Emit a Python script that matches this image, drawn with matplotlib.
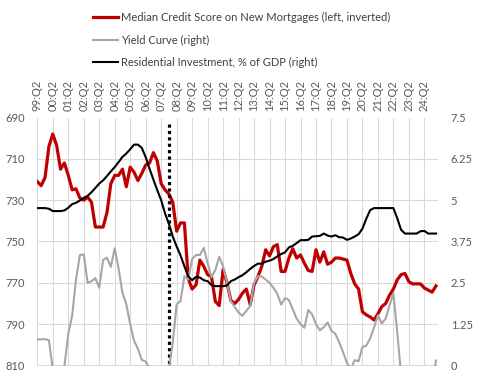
import numpy as np
import matplotlib.pyplot as plt
from matplotlib.ticker import FuncFormatter

plt.rcParams['font.family'] = ['Lato', 'DejaVu Sans']

# quarterly data, 1999:Q2 .. 2025:Q1
start_year, start_q = 1999, 2

# median credit score on new mortgages (left axis, inverted)
credit_score = [
    721, 723, 719, 704, 698, 703.5, 715, 712, 718, 725, 724.5, 729,
    730, 728.5, 731, 743, 743, 743, 736, 722, 718, 718, 715, 723.5,
    714, 716.5, 720.5, 717, 713, 712, 707, 711, 722, 725, 727, 731,
    745, 741, 741, 768, 773, 771, 759, 762, 766, 767, 779, 781,
    763.5, 770, 778.5, 780, 778, 775, 773, 780.5, 771, 767, 762, 754,
    757, 752.5, 751.5, 764.5, 764.5, 758, 753.5, 758, 756.5, 760.5, 764, 764.5,
    754, 760, 755, 761, 760, 758, 758, 758.5, 759, 765.5, 770.5, 773,
    784, 785.5, 786.5, 788, 785, 781.5, 780, 776, 773, 768.5, 766, 765.5,
    769.5, 770.5, 770.5, 770.5, 772.5, 773.5, 774.5, 771.5,
]

# yield curve (right axis)
yield_curve = [
    0.79, 0.79, 0.80, 0.76, -0.1, -0.4, -0.3, -0.02, 0.96, 1.5, 2.6, 3.34,
    3.36, 2.5, 2.55, 2.64, 2.35, 3.19, 3.26, 2.98, 3.55, 2.93, 2.2, 1.85,
    1.25, 0.75, 0.5, 0.17, 0.12, -0.1, -0.3, -0.5, -0.3, -0.2, -0.1, 0.7,
    1.85, 1.95, 2.7, 2.6, 3.22, 3.34, 3.34, 3.56, 3.1, 2.67, 2.89, 3.29,
    3.0, 2.5, 1.95, 1.77, 1.6, 1.5, 1.65, 1.8, 2.5, 2.7, 2.69, 2.6,
    2.5, 2.35, 2.17, 1.84, 2.04, 1.98, 1.7, 1.42, 1.25, 1.14, 1.68, 1.55,
    1.25, 1.06, 1.16, 1.3, 1.05, 0.96, 0.7, 0.4, 0.08, -0.1, 0.16, 0.13,
    0.56, 0.6, 0.82, 1.15, 1.52, 1.27, 1.42, 1.82, 2.17, 1.0, -0.3, -1.2,
    -1.5, -1.6, -1.5, -1.4, -1.3, -1.0, -0.6, 0.15,
]

# residential investment, % of GDP (right axis)
resid_inv = [
    4.76, 4.76, 4.76, 4.74, 4.67, 4.67, 4.67, 4.69, 4.77, 4.88, 4.92, 4.99,
    5.07, 5.13, 5.24, 5.37, 5.5, 5.6, 5.73, 5.87, 6.0, 6.15, 6.31, 6.41,
    6.54, 6.68, 6.68, 6.58, 6.3, 5.95, 5.62, 5.3, 5.0, 4.6, 4.28, 3.9,
    3.6, 3.33, 3.0, 2.7, 2.58, 2.68, 2.66, 2.58, 2.55, 2.43, 2.4, 2.4,
    2.4, 2.42, 2.55, 2.6, 2.67, 2.73, 2.82, 2.92, 3.01, 3.08, 3.08, 3.14,
    3.17, 3.22, 3.3, 3.37, 3.42, 3.57, 3.62, 3.7, 3.79, 3.79, 3.8, 3.9,
    3.91, 3.92, 3.99, 3.93, 3.9, 3.94, 3.88, 3.87, 3.8, 3.84, 3.9, 3.97,
    4.14, 4.44, 4.7, 4.76, 4.76, 4.76, 4.76, 4.76, 4.76, 4.45, 4.1, 3.99,
    3.99, 3.99, 3.99, 4.06, 4.07, 3.99, 3.99, 3.99,
]

marker_quarter = "07:Q4"   # dotted vertical line
marker_top = 693

n = len(credit_score)
labels = []
for i in range(n):
    k = start_q - 1 + i
    labels.append(f"{(start_year + k // 4) % 100:02d}:Q{k % 4 + 1}")
x = np.arange(n)

fig = plt.figure(figsize=(4.79, 3.73), dpi=100)
ax = fig.add_axes([37.3 / 479, 1 - 365.5 / 373, (438.3 - 37.3) / 479, 248 / 373])

red, = ax.plot(x, credit_score, color='#C00000', lw=2.3, zorder=3,
               label='Median Credit Score on New Mortgages (left, inverted)')
ax.vlines(labels.index(marker_quarter), marker_top, 810, colors='black',
          lw=2.3, linestyles=(0, (1, 1)), zorder=4)
ax.set_ylim(810, 690)
ax.set_yticks(np.arange(690, 811, 20))
ax.set_xlim(0, 103.6)
ax.set_xticks(x[::4])
ax.set_xticklabels(labels[::4], rotation=90)
ax.xaxis.tick_top()
ax.grid(color='#D9D9D9', lw=0.75)
ax.set_axisbelow(True)
ax.tick_params(length=0, colors='#595959', labelsize=8)
ax.tick_params(axis='x', pad=5)
ax.tick_params(axis='y', pad=9)
for s in ax.spines.values():
    s.set_visible(False)

ax2 = ax.twinx()
grey, = ax2.plot(x, yield_curve, color='#A6A6A6', lw=1.5, label='Yield Curve (right)')
black, = ax2.plot(x, resid_inv, color='black', lw=1.5,
                  label='Residential Investment, % of GDP (right)')
ax2.set_ylim(0, 7.5)
ax2.set_yticks(np.arange(0, 7.51, 1.25))
ax2.yaxis.set_major_formatter(FuncFormatter(lambda v, p: f"{v:g}"))
ax2.tick_params(length=0, colors='#595959', labelsize=8, pad=9)
for s in ax2.spines.values():
    s.set_visible(False)

leg = fig.legend(handles=[red, grey, black], loc='upper left',
                 bbox_to_anchor=(92.7 / 479, 1 - 12 / 373), frameon=False,
                 borderpad=0, borderaxespad=0, handlelength=2.3,
                 handletextpad=0.25, labelspacing=1.03, fontsize=8)
for t in leg.get_texts():
    t.set_color('#404040')

fig.savefig('out.png', dpi=100)
